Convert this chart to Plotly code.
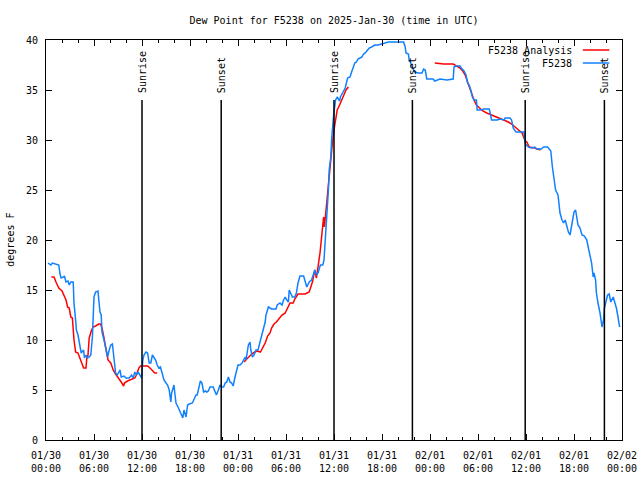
import pandas as pd
import plotly.graph_objects as go

START = pd.Timestamp("2025-01-30 00:00")

# F5238 observations: hours since 2025-01-30 00:00 UTC, dew point (F)
obs_hours = [0.25, 0.6, 0.8, 1.4, 1.6, 1.75, 1.9, 2.2, 2.3, 2.5, 2.75, 2.9, 3.1, 3.4, 3.5, 3.7, 3.8, 4.0, 4.1, 4.25,
             4.4, 4.7, 4.8, 5.0, 5.2, 5.4, 5.6, 5.8, 6.0, 6.2, 6.5, 6.6, 6.75, 6.9, 7.0, 7.25, 7.5, 7.7, 7.9, 8.1,
             8.3, 8.5, 8.7, 8.9, 9.25, 9.4, 9.75, 10.0, 10.4, 10.7, 10.9, 11.1, 11.3, 11.5, 11.75, 11.96, 12.1, 12.25,
             12.5, 12.7, 12.9, 13.1, 13.3, 13.5, 13.7, 13.9, 14.1, 14.3, 14.5, 14.75, 15.0, 15.2, 15.4, 15.6, 15.7,
             16.0, 16.1, 16.25, 16.5, 16.75, 16.9, 17.1, 17.25, 17.5, 17.7, 17.9, 18.3, 18.5, 18.75, 18.9, 19.2, 19.3,
             19.5, 19.7, 19.9, 20.1, 20.3, 20.5, 20.9, 21.1, 21.3, 21.5, 21.75, 21.96, 22.2, 22.4, 22.6, 22.8, 23.0,
             23.2, 23.4, 23.6, 23.9, 24.0, 24.25, 24.5, 24.7, 24.9, 25.0, 25.2, 25.3, 25.5, 25.6, 25.8, 26.0, 26.25,
             26.5, 26.75, 27.0, 27.2, 27.4, 27.5, 27.7, 27.8, 28.0, 28.2, 28.75, 28.9, 29.25, 29.5, 29.7, 29.9, 30.1,
             30.3, 30.4, 30.6, 30.8, 31.1, 31.3, 31.5, 31.75, 32.2, 32.4, 32.6, 32.9, 33.2, 33.4, 33.6, 33.8, 34.0,
             34.3, 34.6, 34.75, 35.0, 35.2, 35.3, 35.4, 35.6, 35.7, 35.8, 35.9, 36.0, 36.2, 36.4, 36.7, 36.8, 37.1,
             37.4, 37.7, 38.0, 38.2, 38.4, 38.6, 38.8, 39.0, 39.25, 39.5, 39.7, 39.9, 40.1, 40.4, 40.7, 41.1, 41.5,
             42.2, 42.8, 44.7, 44.9, 45.0, 45.3, 45.4, 45.6, 45.8, 46.1, 46.5, 47.0, 47.2, 47.4, 47.6, 48.4, 48.6,
             49.25, 50.1, 50.9, 51.0, 51.25, 51.75, 51.9, 52.25, 52.5, 52.7, 52.9, 53.1, 53.3, 53.5, 53.8, 53.9,
             54.3, 54.75, 55.4, 55.5, 55.7, 56.4, 56.75, 57.25, 57.4, 58.0, 58.2, 58.4, 58.75, 59.75, 59.9, 60.3,
             60.7, 61.1, 61.3, 61.9, 62.2, 62.7, 62.9, 63.1, 63.3, 63.5, 63.7, 64.0, 64.1, 64.25, 64.5, 64.7, 64.9,
             65.1, 65.3, 65.5, 65.6, 65.8, 66.0, 66.2, 66.3, 66.5, 66.75, 67.0, 67.3, 67.6, 67.8, 68.0, 68.2, 68.4,
             68.5, 68.7, 68.8, 69.0, 69.25, 69.5, 69.7, 69.8, 70.0, 70.2, 70.4, 70.6, 70.9, 71.1, 71.3, 71.5, 71.7]
obs_values = [17.7, 17.5, 17.7, 17.6, 17.5, 16.6, 16.2, 16.3, 16.4, 15.8, 15.9, 15.5, 15.8, 15.8, 13.7, 12.0, 11.0, 10.5,
              10.0, 9.0, 8.7, 9.0, 8.2, 8.5, 8.2, 8.3, 8.5, 10.3, 14.3, 14.8, 14.9, 14.0, 12.8, 12.5, 10.8, 10.0, 9.0,
              8.3, 9.0, 9.5, 9.6, 8.0, 6.7, 6.5, 7.0, 6.3, 6.4, 6.2, 6.2, 6.5, 6.2, 6.8, 6.5, 6.8, 6.4, 6.2, 8.0, 8.5,
              8.8, 8.7, 7.7, 7.7, 8.5, 8.3, 8.0, 7.5, 7.2, 7.3, 6.7, 6.0, 5.7, 5.5, 5.0, 3.8, 4.7, 5.5, 4.7, 3.7, 3.3,
              2.8, 2.7, 2.2, 3.0, 2.3, 3.5, 3.6, 3.7, 4.0, 4.5, 4.5, 5.4, 5.9, 5.7, 4.8, 4.9, 4.8, 4.9, 5.3, 5.3, 4.9,
              4.5, 4.9, 5.5, 5.3, 5.3, 5.7, 5.8, 6.3, 5.8, 5.7, 5.4, 6.2, 7.3, 7.5, 7.5, 7.7, 8.0, 8.3, 8.0, 9.0, 9.5,
              9.8, 9.0, 8.3, 8.5, 9.0, 9.0, 9.8, 10.5, 11.2, 11.8, 12.5, 13.0, 13.3, 13.2, 13.1, 13.1, 13.5, 13.7,
              13.5, 14.0, 14.3, 14.0, 13.8, 15.0, 14.7, 14.3, 14.3, 14.7, 15.7, 16.4, 16.4, 15.7, 15.3, 15.8, 16.0,
              16.5, 17.0, 16.5, 16.7, 17.5, 17.5, 18.0, 21.0, 23.3, 25.0, 27.0, 28.3, 30.0, 31.7, 32.0, 32.8, 34.0,
              34.3, 33.9, 34.3, 34.8, 35.2, 36.2, 36.3, 36.8, 37.3, 37.7, 37.8, 38.1, 38.2, 38.3, 38.6, 38.7, 38.9,
              39.2, 39.3, 39.5, 39.5, 39.7, 39.8, 39.8, 39.3, 38.7, 38.6, 38.0, 37.7, 37.2, 36.8, 36.7, 36.7, 37.1,
              37.0, 36.1, 36.1, 35.9, 36.1, 36.0, 36.1, 37.3, 37.4, 37.4, 37.2, 36.9, 36.5, 35.7, 35.5, 35.0, 34.3,
              34.0, 34.0, 33.0, 33.0, 33.1, 33.1, 32.8, 32.0, 32.0, 32.1, 32.0, 32.2, 32.2, 32.0, 31.2, 30.8, 30.8,
              29.6, 29.3, 29.2, 29.3, 29.1, 29.1, 29.3, 29.3, 29.1, 28.9, 27.3, 26.3, 25.0, 24.5, 23.5, 22.7, 22.0,
              21.7, 22.0, 21.3, 20.8, 20.5, 21.0, 22.0, 22.8, 23.0, 22.3, 21.5, 21.2, 20.5, 20.4, 20.0, 19.2, 18.5,
              17.7, 16.3, 16.7, 16.0, 14.7, 13.7, 12.7, 11.3, 12.0, 13.2, 13.8, 14.5, 14.6, 13.8, 14.3, 13.7, 13.2,
              12.3, 11.3]

# F5238 Analysis (None = gap)
ana_hours = [0.67, 1.0, 1.3, 1.6, 2.0, 2.25, 2.5, 2.7, 2.9, 3.1, 3.3, 3.5, 3.7, 4.0, 4.25, 4.5, 4.7, 5.0, 5.1, 5.25,
             5.4, 5.7, 5.9, 6.2, 6.6, 6.8, 7.0, 7.25, 7.5, 7.75, 8.1, 8.4, 8.7, 9.1, 9.4, 9.7, 9.8, 10.2, 10.5, 10.8,
             11.1, 11.3, 11.6, 11.8, 12.25, 12.7, 13.0, 13.3, 13.6, 13.9, 19.0,
             24.75, 25.3, 25.7, 26.1, 26.4, 26.8, 27.1, 27.4, 27.7, 28.0, 28.2, 28.5, 28.8, 29.2, 29.5, 29.9, 30.2,
             30.5, 30.9, 31.1, 31.5, 32.4, 32.9, 33.1, 33.3, 33.6, 33.8, 34.0, 34.25, 34.5, 34.7, 34.8, 35.0, 35.2,
             35.4, 35.6, 35.8, 36.0, 36.25, 36.4, 36.7, 37.0, 37.25, 37.5, 37.8, 43.0,
             48.6, 49.7, 50.9, 51.3, 51.75, 52.1, 52.4, 52.7, 52.9, 53.2, 53.5, 53.8, 54.2, 54.6, 55.1, 55.7, 56.3,
             56.75, 57.4, 57.8, 58.2, 58.6, 59.0, 59.5, 59.7, 59.9, 60.1, 60.4, 61.1, 61.8]
ana_values = [16.3, 16.3, 15.7, 15.2, 14.9, 14.5, 14.0, 13.3, 13.2, 12.3, 12.2, 10.0, 8.8, 8.7, 8.2, 7.5, 7.2, 7.2,
              8.2, 8.5, 10.2, 11.0, 11.3, 11.4, 11.6, 11.6, 11.2, 10.2, 9.0, 8.0, 7.7, 7.0, 6.6, 6.2, 5.8, 5.4, 5.7,
              5.9, 6.0, 6.1, 6.2, 6.5, 7.2, 7.4, 7.4, 7.4, 7.2, 6.9, 6.7, 6.7, None,
              7.8, 8.3, 8.6, 8.8, 8.9, 8.8, 9.2, 9.7, 10.4, 10.7, 11.2, 11.6, 11.8, 12.2, 12.5, 12.7, 13.2, 13.7,
              13.7, 14.1, 14.6, 14.6, 14.8, 15.3, 15.8, 17.0, 16.2, 17.3, 18.7, 20.7, 22.3, 21.3, 23.0, 25.3, 27.0,
              28.3, 29.7, 31.0, 32.3, 33.0, 33.5, 34.0, 34.5, 35.0, 35.3, None,
              37.7, 37.6, 37.6, 37.4, 37.2, 36.9, 36.5, 35.8, 35.3, 34.7, 34.0, 33.5, 33.2, 32.9, 32.7, 32.5, 32.3,
              32.2, 32.0, 31.8, 31.6, 31.3, 31.1, 30.7, 30.3, 29.9, 29.8, 29.3, 29.2, 29.0]

# Sun events (hours since start)
sun_hours = [12.0, 21.9, 36.0, 45.8, 59.9, 69.8]
sun_labels = ["Sunrise", "Sunset", "Sunrise", "Sunset", "Sunrise", "Sunset"]
sun_line_top = 34

tick_hours = [0, 6, 12, 18, 24, 30, 36, 42, 48, 54, 60, 66, 72]
tick_labels = ["01/30<br>00:00", "01/30<br>06:00", "01/30<br>12:00", "01/30<br>18:00",
               "01/31<br>00:00", "01/31<br>06:00", "01/31<br>12:00", "01/31<br>18:00",
               "02/01<br>00:00", "02/01<br>06:00", "02/01<br>12:00", "02/01<br>18:00",
               "02/02<br>00:00"]
y_ticks = [0, 5, 10, 15, 20, 25, 30, 35, 40]
y_tick_labels = ["0", "5", "10", "15", "20", "25", "30", "35", "40"]


def to_time(hours):
    return [START + pd.Timedelta(hours=h) for h in hours]


RED = "#ff0000"
BLUE = "#1080ff"
FONT = "DejaVu Sans Mono"
FS = 10

fig = go.Figure()
fig.add_trace(go.Scatter(x=to_time(ana_hours), y=ana_values, mode="lines", name="F5238 Analysis",
                         line=dict(color=RED, width=1.5), connectgaps=False, showlegend=False))
fig.add_trace(go.Scatter(x=to_time(obs_hours), y=obs_values, mode="lines", name="F5238",
                         line=dict(color=BLUE, width=1.5), showlegend=False))

shapes = []
annotations = []
for t, lab in zip(to_time(sun_hours), sun_labels):
    shapes.append(dict(type="line", xref="x", yref="y", x0=t, x1=t, y0=0, y1=sun_line_top,
                       line=dict(color="black", width=1.5), layer="above"))
    annotations.append(dict(x=t, y=sun_line_top, xref="x", yref="y", text=lab, textangle=-90,
                            showarrow=False, yanchor="bottom", xanchor="center", yshift=5,
                            font=dict(family=FONT, size=FS, color="black")))

# Legend (gnuplot style: text then sample on the right)
legend_items = [("F5238 Analysis", RED, 0.975), ("F5238", BLUE, 0.9425)]
for txt, col, yp in legend_items:
    annotations.append(dict(x=0.9167, y=yp, xref="paper", yref="paper", text=txt, showarrow=False,
                            xanchor="right", yanchor="middle", font=dict(family=FONT, size=FS, color="black")))
    shapes.append(dict(type="line", xref="paper", yref="paper", x0=0.932, x1=0.978, y0=yp, y1=yp,
                       line=dict(color=col, width=1.5)))

annotations.append(dict(x=-0.063, y=0.5, xref="paper", yref="paper", text="degrees F", textangle=-90,
                        showarrow=False, xanchor="center", yanchor="middle",
                        font=dict(family=FONT, size=FS, color="black")))

fig.update_layout(
    width=640, height=480,
    margin=dict(l=46, r=18, t=40, b=40),
    paper_bgcolor="white", plot_bgcolor="white",
    font=dict(family=FONT, size=FS, color="black"),
    title=dict(text="Dew Point for F5238 on 2025-Jan-30 (time in UTC)", x=0.5, xref="paper",
               y=1 - 20 / 480, yref="container", yanchor="middle", xanchor="center",
               font=dict(family=FONT, size=FS, color="black"), automargin=False),
    shapes=shapes, annotations=annotations,
    showlegend=False,
)
fig.update_xaxes(
    type="date", range=[to_time([0])[0], to_time([72])[0]], automargin=False,
    tickmode="array", tickvals=to_time(tick_hours), ticktext=tick_labels,
    ticks="inside", ticklen=6, tickcolor="black", showline=True, linecolor="black", linewidth=1,
    mirror="allticks", showgrid=False, zeroline=False, ticklabelstandoff=6,
    minor=dict(tickmode="array", tickvals=to_time(list(range(0, 73, 2))), ticks="inside", ticklen=3,
               tickcolor="black", showgrid=False),
    tickfont=dict(family=FONT, size=FS, color="black"),
)
fig.update_yaxes(
    range=[0, 40], tickmode="array", tickvals=y_ticks, ticktext=y_tick_labels, automargin=False,
    ticks="inside", ticklen=6, tickcolor="black", showline=True, linecolor="black", linewidth=1,
    mirror="allticks", showgrid=False, zeroline=False, ticklabelstandoff=5,
    tickfont=dict(family=FONT, size=FS, color="black"),
)

fig.write_html("out.html", config={"displayModeBar": False},
               post_script="document.body.style.margin='0';")
